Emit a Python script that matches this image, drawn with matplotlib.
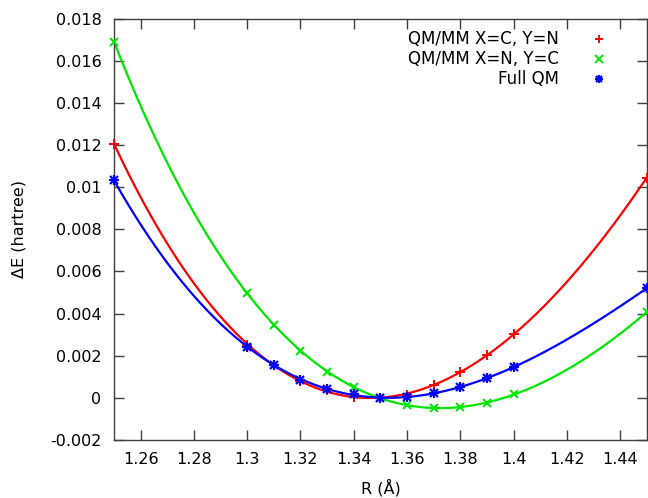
import numpy as np
import matplotlib
matplotlib.use('Agg')
import matplotlib.pyplot as plt
from matplotlib.ticker import FuncFormatter, MultipleLocator

# bond length R (Angstrom)
r = [1.25, 1.30, 1.31, 1.32, 1.33, 1.34, 1.35, 1.36, 1.37, 1.38, 1.39, 1.40, 1.45]

# energy relative to R = 1.35 (hartree)
qmmm_cn = [0.01206, 0.00250, 0.00157, 0.00080, 0.00035, 0.00006, 0.0,
           0.00013, 0.00060, 0.00122, 0.00204, 0.00302, 0.01045]
qmmm_nc = [0.01690, 0.00497, 0.00346, 0.00223, 0.00125, 0.00053, 0.0,
           -0.00034, -0.00050, -0.00045, -0.00023, 0.00017, 0.00407]
full_qm = [0.01032, 0.00243, 0.00156, 0.00087, 0.00044, 0.00016, 0.0,
           0.00002, 0.00022, 0.00050, 0.00096, 0.00145, 0.00520]

labels = ['QM/MM X=C, Y=N', 'QM/MM X=N, Y=C', 'Full QM']
colors = ['#ff0000', '#00e600', '#0000ff']

plt.rcParams['font.family'] = ['DejaVu Sans']
plt.rcParams['axes.unicode_minus'] = False

fig = plt.figure(figsize=(6.48, 4.98), dpi=100)
ax = fig.add_axes([0.176, 0.1165, 0.822, 0.846])

x = np.array(r)
xs = np.linspace(1.25, 1.45, 300)
handles = []
for y, c, lab in zip([qmmm_cn, qmmm_nc, full_qm], colors, labels):
    coef = np.polyfit(x, np.array(y), 4)
    ax.plot(xs, np.polyval(coef, xs), color=c, lw=1.6, zorder=2)
    if lab == 'Full QM':
        h1, = ax.plot(x, y, ls='none', marker='+', ms=7.5, mew=1.6, color=c, zorder=3, clip_on=False)
        h2, = ax.plot(x, y, ls='none', marker='x', ms=5.5, mew=1.6, color=c, zorder=3, clip_on=False)
        handles.append((h1, h2))
    else:
        m = '+' if c == '#ff0000' else 'x'
        h, = ax.plot(x, y, ls='none', marker=m, ms=7.5 if m == '+' else 6, mew=1.4,
                     color=c, zorder=3, clip_on=False)
        handles.append(h)

ax.set_xlim(1.25, 1.45)
ax.set_ylim(-0.002, 0.018)
ax.xaxis.set_major_locator(MultipleLocator(0.02))
ax.yaxis.set_major_locator(MultipleLocator(0.002))
ax.xaxis.set_major_formatter(FuncFormatter(lambda v, p: f'{round(v, 4):g}' if v > 1.251 else ''))
ax.yaxis.set_major_formatter(FuncFormatter(lambda v, p: f'{round(v, 5):g}'))

for s in ax.spines.values():
    s.set_color('#404040')
    s.set_linewidth(1.0)
ax.tick_params(direction='in', length=7, width=1, color='#404040',
               top=True, right=True, labelsize=11.5, pad=9)

ax.set_xlabel('R (Å)', fontsize=11.5, labelpad=8)
ax.set_ylabel('ΔE (hartree)', fontsize=11.5, labelpad=17)

leg = ax.legend(handles, labels, loc='upper right', bbox_to_anchor=(0.945, 1.0),
                frameon=False, markerfirst=False, fontsize=12, handlelength=0.8,
                handletextpad=2.0, labelspacing=0.12, borderaxespad=0.3, markerscale=0.85)
for t in leg.get_texts():
    t.set_ha('right')
leg._legend_box.align = 'right'

fig.savefig('out.png', dpi=100)
